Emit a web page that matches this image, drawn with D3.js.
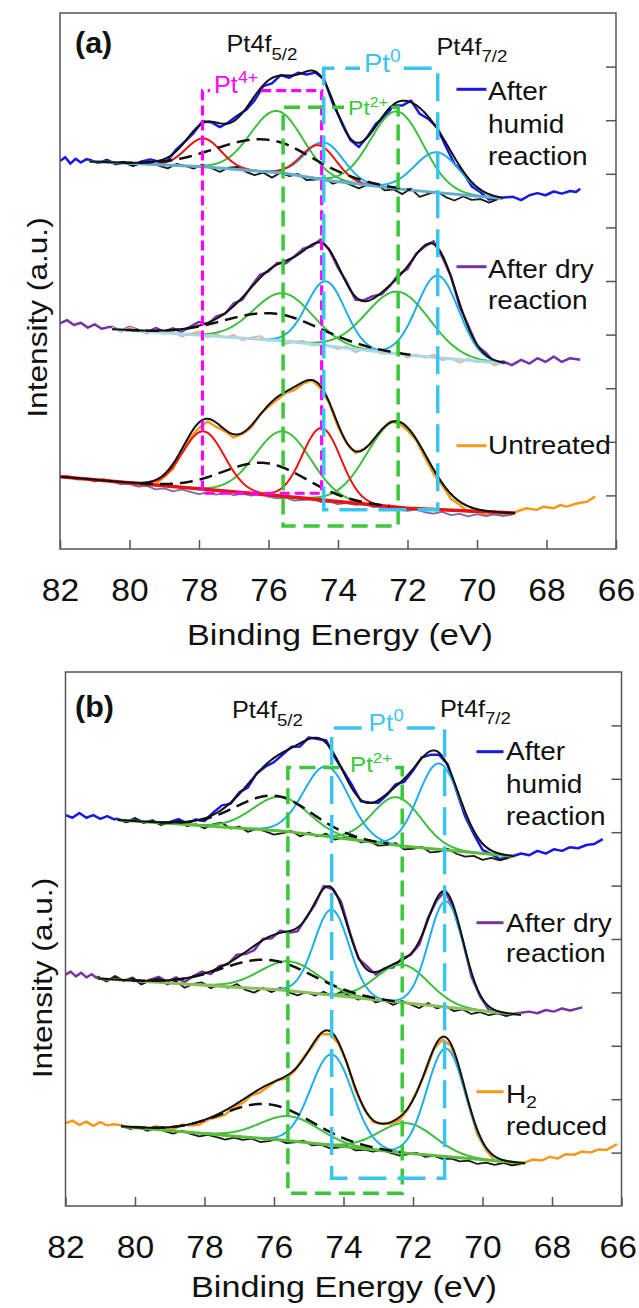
<!DOCTYPE html>
<html>
<head>
<meta charset="utf-8">
<script src="https://cdnjs.cloudflare.com/ajax/libs/d3/7.8.5/d3.min.js"></script>
<style>
  body { margin: 0; background: #fff; }
  svg { display: block; }
</style>
</head>
<body>
<svg id="chart"></svg>
<script>
// ---------- shared axis values ----------
const energyTicks = [82, 80, 78, 76, 74, 72, 70, 68, 66];
const intensityTicks = [1, 2, 3, 4, 5, 6, 7, 8, 9];
const residStep = 0.25;   // eV between the measured samples inside the fit window

// ---------- panel (a) ----------
// background line: [binding energy (eV), intensity]
const aHumidBg = [[81.15, 7.23], [77.87, 7.13], [75.53, 7.01], [74.35, 6.88], [72.01, 6.70], [69.25, 6.54]];
// fitted components: [species, centre (eV), height, sigma (eV)]
const aHumidPeaks = [["Pt4+", 77.87, 0.53, 0.5], ["Pt4+", 74.55, 0.63, 0.5], ["Pt2+", 75.76, 1.15, 0.75],
  ["Pt2+", 72.30, 1.44, 0.75], ["Pt0", 74.40, 0.70, 0.55], ["Pt0", 71.15, 0.75, 0.65], ["broad", 76.1, 0.60, 1.4]];
// measured minus fit, one value every residStep from the start of the fit window
const aHumidResid = [0.03, -0.02, 0.04, -0.03, 0.01, -0.05, 0.02, 0.05, -0.02, -0.06, 0.03, 0.00, -0.04, 0.04, -0.01, -0.07,
  0.02, 0.05, -0.03, -0.08, -0.02, -0.10, 0.01, -0.04, 0.03, -0.06, -0.02, 0.04, -0.05, 0.02, -0.03, -0.08,
  0.01, 0.04, -0.06, -0.02, -0.09, 0.03, -0.11, -0.04, 0.02, -0.07, -0.12, -0.03, -0.08, -0.05, -0.10, -0.02];
// measured data outside the fit window
const aHumidLeft = [[82.0, 7.24], [81.85, 7.31], [81.7, 7.19], [81.55, 7.28], [81.4, 7.21], [81.25, 7.27]];
const aHumidRight = [[68.96, 6.57], [68.73, 6.51], [68.49, 6.60], [68.26, 6.64], [68.03, 6.60], [67.79, 6.67],
  [67.56, 6.63], [67.32, 6.68], [67.15, 6.66], [67.03, 6.72]];

const aDryBg = [[80.5, 4.10], [75.53, 3.88], [72.0, 3.62], [69.2, 3.46]];
const aDryPeaks = [["Pt0", 74.35, 1.20, 0.55], ["Pt0", 71.13, 1.53, 0.6], ["Pt2+", 75.58, 0.89, 0.85],
  ["Pt2+", 72.27, 1.16, 0.9], ["broad", 75.9, 0.50, 1.4]];
const aDryResid = [0.04, -0.03, 0.06, 0.01, -0.04, 0.05, -0.02, 0.03, -0.05, 0.02, 0.07, -0.03, 0.04, -0.01, 0.05, -0.04,
  0.02, 0.06, -0.02, 0.03, -0.05, 0.01, 0.04, -0.03, 0.06, 0.00, -0.04, 0.03, -0.06, 0.02, 0.05, -0.03,
  -0.01, 0.04, -0.05, 0.02, -0.02, 0.05, -0.04, 0.01, -0.06, 0.03, -0.02, 0.04, -0.05, 0.02];
const aDryLeft = [[82.0, 4.21], [81.8, 4.27], [81.6, 4.18], [81.4, 4.22], [81.2, 4.13], [81.0, 4.19], [80.8, 4.11], [80.6, 4.14]];
const aDryRight = [[69.0, 3.43], [68.73, 3.53], [68.49, 3.46], [68.26, 3.56], [68.03, 3.49], [67.79, 3.59],
  [67.56, 3.49], [67.32, 3.56], [67.03, 3.53]];

const aUntrBg = [[82.0, 1.35], [75.5, 0.98], [72.0, 0.76], [68.9, 0.67]];
const aUntrPeaks = [["Pt4+", 77.87, 1.08, 0.6], ["Pt4+", 74.47, 1.34, 0.55], ["Pt2+", 75.58, 1.21, 0.8],
  ["Pt2+", 72.30, 1.60, 0.85], ["broad", 76.11, 0.59, 1.2]];
const aUntrResid = [0.00, 0.02, -0.02, 0.01, -0.03, 0.02, 0.00, -0.04, -0.02, -0.06, -0.03, -0.08, -0.05, -0.09, -0.04, -0.07,
  -0.10, -0.05, -0.08, -0.03, -0.06, -0.02, -0.04, 0.01, -0.03, -0.05, -0.02, -0.06, -0.03, 0.00, -0.04, -0.02,
  -0.05, -0.01, -0.03, 0.01, -0.04, -0.02, 0.02, -0.03, -0.05, -0.02, -0.06, -0.08, -0.04, -0.09, -0.06, -0.10,
  -0.05, -0.08, -0.04, -0.06, -0.03];
const aUntrLeft = [];
const aUntrRight = [[68.86, 0.70], [68.57, 0.76], [68.28, 0.73], [68.09, 0.79], [67.8, 0.76], [67.61, 0.82],
  [67.42, 0.79], [67.13, 0.85], [66.84, 0.88], [66.6, 0.98]];

// ---------- panel (b) ----------
const bHumidBg = [[80.5, 7.23], [75.7, 7.02], [72.17, 6.73], [69.1, 6.55]];
const bHumidPeaks = [["Pt0", 74.49, 1.31, 0.65], ["Pt0", 71.25, 1.61, 0.6], ["Pt2+", 75.80, 0.64, 0.8],
  ["Pt2+", 72.46, 0.90, 0.7], ["broad", 76.0, 0.65, 1.1]];
const bHumidResid = [0.02, -0.03, 0.05, -0.02, 0.03, -0.04, 0.01, 0.06, -0.03, 0.02, -0.05, 0.04, 0.08, -0.02, 0.03, -0.06,
  0.01, -0.03, -0.08, -0.04, 0.02, -0.06, 0.03, -0.02, 0.05, -0.04, 0.02, 0.06, -0.03, 0.01, -0.05, -0.02,
  0.04, -0.06, -0.03, 0.02, -0.07, -0.04, 0.03, -0.05, -0.09, -0.06, -0.12, -0.07, -0.10, -0.04];
const bHumidLeft = [[82.0, 7.32], [81.8, 7.27], [81.6, 7.36], [81.4, 7.27], [81.2, 7.32], [81.0, 7.25], [80.8, 7.30], [80.6, 7.24]];
const bHumidRight = [[68.89, 6.60], [68.65, 6.57], [68.42, 6.65], [68.18, 6.60], [67.95, 6.68], [67.71, 6.65],
  [67.48, 6.72], [67.25, 6.70], [67.01, 6.76], [66.78, 6.78], [66.54, 6.87]];

const bDryBg = [[81.07, 4.26], [75.7, 4.04], [72.17, 3.80], [68.89, 3.58]];
const bDryPeaks = [["Pt0", 74.34, 1.60, 0.5], ["Pt0", 71.05, 1.98, 0.5], ["Pt2+", 75.55, 0.55, 0.85],
  ["Pt2+", 72.30, 0.71, 0.75], ["broad", 76.2, 0.55, 1.3]];
const bDryResid = [0.03, -0.04, 0.06, -0.02, 0.05, -0.06, 0.02, 0.07, -0.03, 0.04, -0.07, 0.01, 0.05, -0.05, 0.03, -0.02,
  0.06, -0.04, -0.08, 0.02, -0.05, 0.04, -0.03, -0.07, 0.01, -0.04, 0.05, -0.02, 0.08, 0.02, -0.03, 0.06,
  -0.05, 0.01, -0.06, 0.03, -0.02, -0.07, 0.04, -0.04, 0.02, -0.06, -0.01, -0.08, -0.03, -0.07, -0.02, -0.05, 0.01];
const bDryLeft = [[82.0, 4.33], [81.85, 4.39], [81.7, 4.30], [81.55, 4.37], [81.4, 4.28], [81.25, 4.34], [81.1, 4.27]];
const bDryRight = [[68.65, 3.64], [68.42, 3.61], [68.18, 3.67], [67.95, 3.64], [67.71, 3.70], [67.48, 3.66], [67.13, 3.72]];

const bH2Bg = [[80.4, 1.49], [75.7, 1.23], [72.17, 0.99], [68.77, 0.80]];
const bH2Peaks = [["Pt0", 74.34, 1.70, 0.6], ["Pt0", 71.05, 2.02, 0.55], ["Pt2+", 75.55, 0.46, 0.85],
  ["Pt2+", 72.17, 0.56, 0.8], ["broad", 76.2, 0.65, 1.3]];
const bH2Resid = [0.02, -0.03, 0.01, -0.04, 0.03, -0.02, -0.05, 0.02, -0.03, -0.06, -0.02, -0.05, -0.08, -0.03, -0.06, -0.02,
  -0.07, -0.04, 0.01, -0.05, -0.02, 0.03, -0.04, -0.01, -0.06, -0.03, 0.02, -0.05, -0.02, -0.04, 0.01, -0.03,
  -0.06, -0.02, 0.02, -0.04, -0.01, -0.05, -0.03, -0.07, -0.04, -0.09, -0.05, -0.08, -0.03, -0.06, -0.02];
const bH2Left = [[82.0, 1.55], [81.8, 1.60], [81.6, 1.52], [81.4, 1.58], [81.2, 1.50], [81.0, 1.57], [80.8, 1.51], [80.6, 1.53]];
const bH2Right = [[68.54, 0.87], [68.30, 0.85], [68.07, 0.92], [67.83, 0.89], [67.60, 0.97], [67.36, 0.96],
  [67.13, 1.02], [66.90, 1.00], [66.66, 1.06], [66.43, 1.05], [66.13, 1.16]];

// ---------- boxes marking the oxidation states: [label, left eV, right eV] ----------
const aBoxes = [["Pt4+", 77.90, 74.47], ["Pt2+", 75.58, 72.27], ["Pt0", 74.41, 71.13]];
const bBoxes = [["Pt2+", 75.60, 72.31], ["Pt0", 74.34, 71.09]];

// ---------- legend text ----------
const aLegend = [["After", "humid", "reaction"], ["After dry", "reaction"], ["Untreated"]];
const bLegend = [["After", "humid", "reaction"], ["After dry", "reaction"], ["H|2", "reduced"]];

// ================= drawing =================
const SANS = '"Liberation Sans", Arial, sans-serif';
const compColor = { "Pt4+": "#ee1313", "Pt2+": "#3fbf3f", "Pt0": "#1eaeea" };
const boxStyle = {
  "Pt4+": { color: "#ff00ff", dash: "10,5", width: 3.2 },
  "Pt2+": { color: "#38c838", dash: "16,8", width: 3.5 },
  "Pt0": { color: "#3cc4f0", dash: "28,11", width: 3.5 }
};
const BLUE = "#1717e6", PURPLE = "#7533a6", ORANGE = "#f7981a";
const PAGE_W = 639;

const svg = d3.select("#chart").attr("width", PAGE_W).attr("height", 1308);

function gauss(q, e) {
  return q[2] * Math.exp(-0.5 * Math.pow((e - q[1]) / q[3], 2));
}

function addText(x, y, parts, o) {
  const t = svg.append("text")
    .attr("transform", `translate(${x},${y}) rotate(${o.rotate || 0}) scale(${o.sx || 1},1)`)
    .attr("text-anchor", o.anchor || "start")
    .style("font-family", SANS)
    .style("font-size", o.size + "px")
    .style("font-weight", o.weight || "normal")
    .style("fill", o.color || "#111");
  parts.forEach(([str, kind]) => {
    const sp = t.append("tspan").text(str);
    if (kind === "sub") sp.style("font-size", o.small + "px").attr("dy", o.shift);
    if (kind === "sup") sp.style("font-size", o.small + "px").attr("dy", -o.shift);
  });
  return t;
}

function drawPanel(p) {
  const x = d3.scaleLinear().domain([82, 66]).range([p.left, p.right]);
  const y = d3.scaleLinear().domain([0, 10]).range([p.bottom, p.top]);
  const line = d3.line().x(d => x(d[0])).y(d => y(d[1]));

  svg.append("clipPath").attr("id", "clip-" + p.id)
    .append("rect")
    .attr("x", p.left).attr("y", p.top)
    .attr("width", p.right - p.left).attr("height", p.bottom - p.top);
  const plot = svg.append("g").attr("clip-path", `url(#clip-${p.id})`);

  p.spectra.forEach(s => {
    const bgScale = d3.scaleLinear().domain(s.bg.map(d => d[0])).range(s.bg.map(d => d[1])).clamp(true);
    const eStart = s.bg[0][0], eEnd = s.bg[s.bg.length - 1][0];
    const fit = e => bgScale(e) + d3.sum(s.peaks, q => gauss(q, e));
    const grid = d3.range(eStart, eEnd, -0.02).concat([eEnd]);
    const samples = s.resid.map((r, i) => [eStart - i * residStep, r]).filter(d => d[0] >= eEnd - 1e-9);

    // measured spectrum
    plot.append("path")
      .attr("d", line(s.left.concat(samples.map(d => [d[0], fit(d[0]) + d[1]]), s.right)))
      .attr("fill", "none").attr("stroke", s.raw).attr("stroke-width", 2.5)
      .attr("stroke-linejoin", "round");

    // residual riding on the background
    plot.append("path")
      .attr("d", line(samples.map(d => [d[0], bgScale(d[0]) + d[1]])))
      .attr("fill", "none").attr("stroke", s.residColor).attr("stroke-width", 1.8)
      .attr("stroke-linejoin", "round");

    // fitted components
    ["Pt2+", "Pt0", "Pt4+"].forEach(kind => {
      s.peaks.filter(q => q[0] === kind).forEach(q => {
        const pts = grid.filter(e => Math.abs(e - q[1]) <= 3.5 * q[3]).map(e => [e, bgScale(e) + gauss(q, e)]);
        plot.append("path").attr("d", line(pts))
          .attr("fill", "none").attr("stroke", compColor[kind]).attr("stroke-width", 2);
      });
    });

    // background
    plot.append("path").attr("d", line(s.bg))
      .attr("fill", "none").attr("stroke", s.bgColor).attr("stroke-width", s.bgWidth);

    // broad component
    s.peaks.filter(q => q[0] === "broad").forEach(q => {
      const pts = grid.filter(e => Math.abs(e - q[1]) <= 3 * q[3]).map(e => [e, bgScale(e) + gauss(q, e)]);
      plot.append("path").attr("d", line(pts))
        .attr("fill", "none").attr("stroke", "#111").attr("stroke-width", 2.5)
        .attr("stroke-dasharray", "13,7");
    });

    // fit envelope
    plot.append("path").attr("d", line(grid.map(e => [e, fit(e)])))
      .attr("fill", "none").attr("stroke", "#111").attr("stroke-width", 2);
  });

  // dashed boxes with their labels sitting on the top edge
  p.boxes.forEach((b, i) => {
    const L = p.boxLayout[i];
    const st = boxStyle[b[0]];
    const yT = y(L.top), yB = y(L.bottom), xL = x(b[1]), xR = x(b[2]);
    const t = addText(L.tx, yT + L.dy, [["Pt"], [b[0].slice(2), "sup"]],
      { size: L.size, small: L.size * 0.7, shift: L.size * 0.42, sx: 1.1, color: st.color });
    const bb = t.node().getBBox();
    const gapL = L.tx - 4, gapR = L.tx + bb.width * 1.1 + 3;
    svg.append("path")
      .attr("d", `M${gapR},${yT}H${xR}V${yB}H${xL}V${yT}H${gapL}`)
      .attr("fill", "none").attr("stroke", st.color).attr("stroke-width", st.width)
      .attr("stroke-dasharray", st.dash);
  });

  // frame
  svg.append("rect")
    .attr("x", p.left).attr("y", p.top)
    .attr("width", p.right - p.left).attr("height", p.bottom - p.top)
    .attr("fill", "none").attr("stroke", "#555").attr("stroke-width", 1.5);

  // x axis with inward ticks
  svg.append("g")
    .attr("transform", `translate(0,${p.bottom})`)
    .attr("color", "#555")
    .call(d3.axisBottom(x).tickValues(energyTicks).tickSize(-9).tickPadding(29).tickFormat(d3.format("d")))
    .call(g => g.select(".domain").remove())
    .call(g => g.selectAll(".tick line").attr("stroke-width", 1.5))
    .call(g => g.selectAll("text")
      .style("font-family", SANS).style("font-size", "32px").style("fill", "#111")
      .attr("transform", "scale(1.05,1)"))
    // keep the last label inside the page
    .call(g => g.selectAll("text").each(function () {
      const r = this.getBoundingClientRect();
      if (r.right > PAGE_W - 1) d3.select(this).attr("dx", -(r.right - PAGE_W + 2));
    }));

  // unlabeled intensity ticks on the right edge
  svg.append("g")
    .attr("transform", `translate(${p.right},0)`)
    .attr("color", "#555")
    .call(d3.axisLeft(y).tickValues(intensityTicks).tickSize(10).tickFormat(""))
    .call(g => g.select(".domain").remove())
    .call(g => g.selectAll(".tick line").attr("stroke-width", 1.5));

  // legend
  p.legend.forEach((lines, i) => {
    const L = p.legendLayout[i];
    svg.append("line")
      .attr("x1", L.x1).attr("x2", L.x2).attr("y1", L.ly).attr("y2", L.ly)
      .attr("stroke", p.spectra[i].raw).attr("stroke-width", 3);
    lines.forEach((str, j) => {
      const parts = str.includes("|") ? [[str.split("|")[0]], [str.split("|")[1], "sub"]] : [[str]];
      addText(L.tx, L.ty + j * L.gap, parts, { size: 25, small: 17, shift: 5, sx: 1.12 });
    });
  });

  // titles
  addText(75, p.top + p.tagY, [[`(${p.id})`]], { size: 29, weight: "bold", sx: 1.05 });
  addText(p.pt52[0], p.pt52[1], [["Pt4f"], ["5/2", "sub"]], { size: 23, small: 17, shift: 8, sx: 1.1 });
  addText(p.pt72[0], p.pt72[1], [["Pt4f"], ["7/2", "sub"]], { size: 23, small: 17, shift: 7, sx: 1.1 });
  addText(p.yTitle[0], p.yTitle[1], [["Intensity (a.u.)"]], { size: 28, rotate: -90, anchor: "middle", sx: 1.13 });
  addText(p.xTitle[0], p.xTitle[1], [["Binding Energy (eV)"]], { size: 30, anchor: "middle", sx: 1.14 });
}

drawPanel({
  id: "a", left: 60, right: 616, top: 13, bottom: 549, tagY: 40,
  spectra: [
    { bg: aHumidBg, peaks: aHumidPeaks, resid: aHumidResid, left: aHumidLeft, right: aHumidRight,
      raw: BLUE, residColor: "#1a1a1a", bgColor: "#62aed0", bgWidth: 3 },
    { bg: aDryBg, peaks: aDryPeaks, resid: aDryResid, left: aDryLeft, right: aDryRight,
      raw: PURPLE, residColor: "#f2ad8a", bgColor: "#a9d9e8", bgWidth: 3 },
    { bg: aUntrBg, peaks: aUntrPeaks, resid: aUntrResid, left: aUntrLeft, right: aUntrRight,
      raw: ORANGE, residColor: "#7d6aa6", bgColor: "#e81414", bgWidth: 3.5 }
  ],
  boxes: aBoxes,
  boxLayout: [
    { top: 8.55, bottom: 1.04, tx: 214, dy: 2, size: 23 },
    { top: 8.24, bottom: 0.43, tx: 348, dy: 8, size: 21 },
    { top: 8.97, bottom: 0.73, tx: 364, dy: 4, size: 25 }
  ],
  legend: aLegend,
  legendLayout: [
    { x1: 456.5, x2: 486.5, ly: 89.3, tx: 488, ty: 100, gap: 32.5 },
    { x1: 456.5, x2: 486.5, ly: 266.7, tx: 488, ty: 278, gap: 31 },
    { x1: 456.5, x2: 486.5, ly: 445.7, tx: 488, ty: 454, gap: 31 }
  ],
  pt52: [226.5, 52], pt72: [436.5, 55],
  yTitle: [46.5, 317.5], xTitle: [340, 645]
});

drawPanel({
  id: "b", left: 65.5, right: 621.5, top: 672, bottom: 1206, tagY: 45,
  spectra: [
    { bg: bHumidBg, peaks: bHumidPeaks, resid: bHumidResid, left: bHumidLeft, right: bHumidRight,
      raw: BLUE, residColor: "#1a1a1a", bgColor: "#5cbd3c", bgWidth: 3 },
    { bg: bDryBg, peaks: bDryPeaks, resid: bDryResid, left: bDryLeft, right: bDryRight,
      raw: PURPLE, residColor: "#1a1a1a", bgColor: "#8cbf5a", bgWidth: 3 },
    { bg: bH2Bg, peaks: bH2Peaks, resid: bH2Resid, left: bH2Left, right: bH2Right,
      raw: ORANGE, residColor: "#1a1a1a", bgColor: "#5cbd3c", bgWidth: 3 }
  ],
  boxes: bBoxes,
  boxLayout: [
    { top: 8.21, bottom: 0.24, tx: 350, dy: 4.5, size: 22 },
    { top: 8.95, bottom: 0.52, tx: 368.5, dy: 3, size: 24 }
  ],
  legend: bLegend,
  legendLayout: [
    { x1: 476.5, x2: 503.5, ly: 751.7, tx: 506, ty: 760, gap: 32.5 },
    { x1: 476.5, x2: 503.5, ly: 922.7, tx: 506, ty: 931.7, gap: 30.5 },
    { x1: 476.5, x2: 503.5, ly: 1091.7, tx: 506, ty: 1102.7, gap: 32.3 }
  ],
  pt52: [232, 718], pt72: [440, 717],
  yTitle: [52, 978], xTitle: [344, 1297]
});
</script>
</body>
</html>
